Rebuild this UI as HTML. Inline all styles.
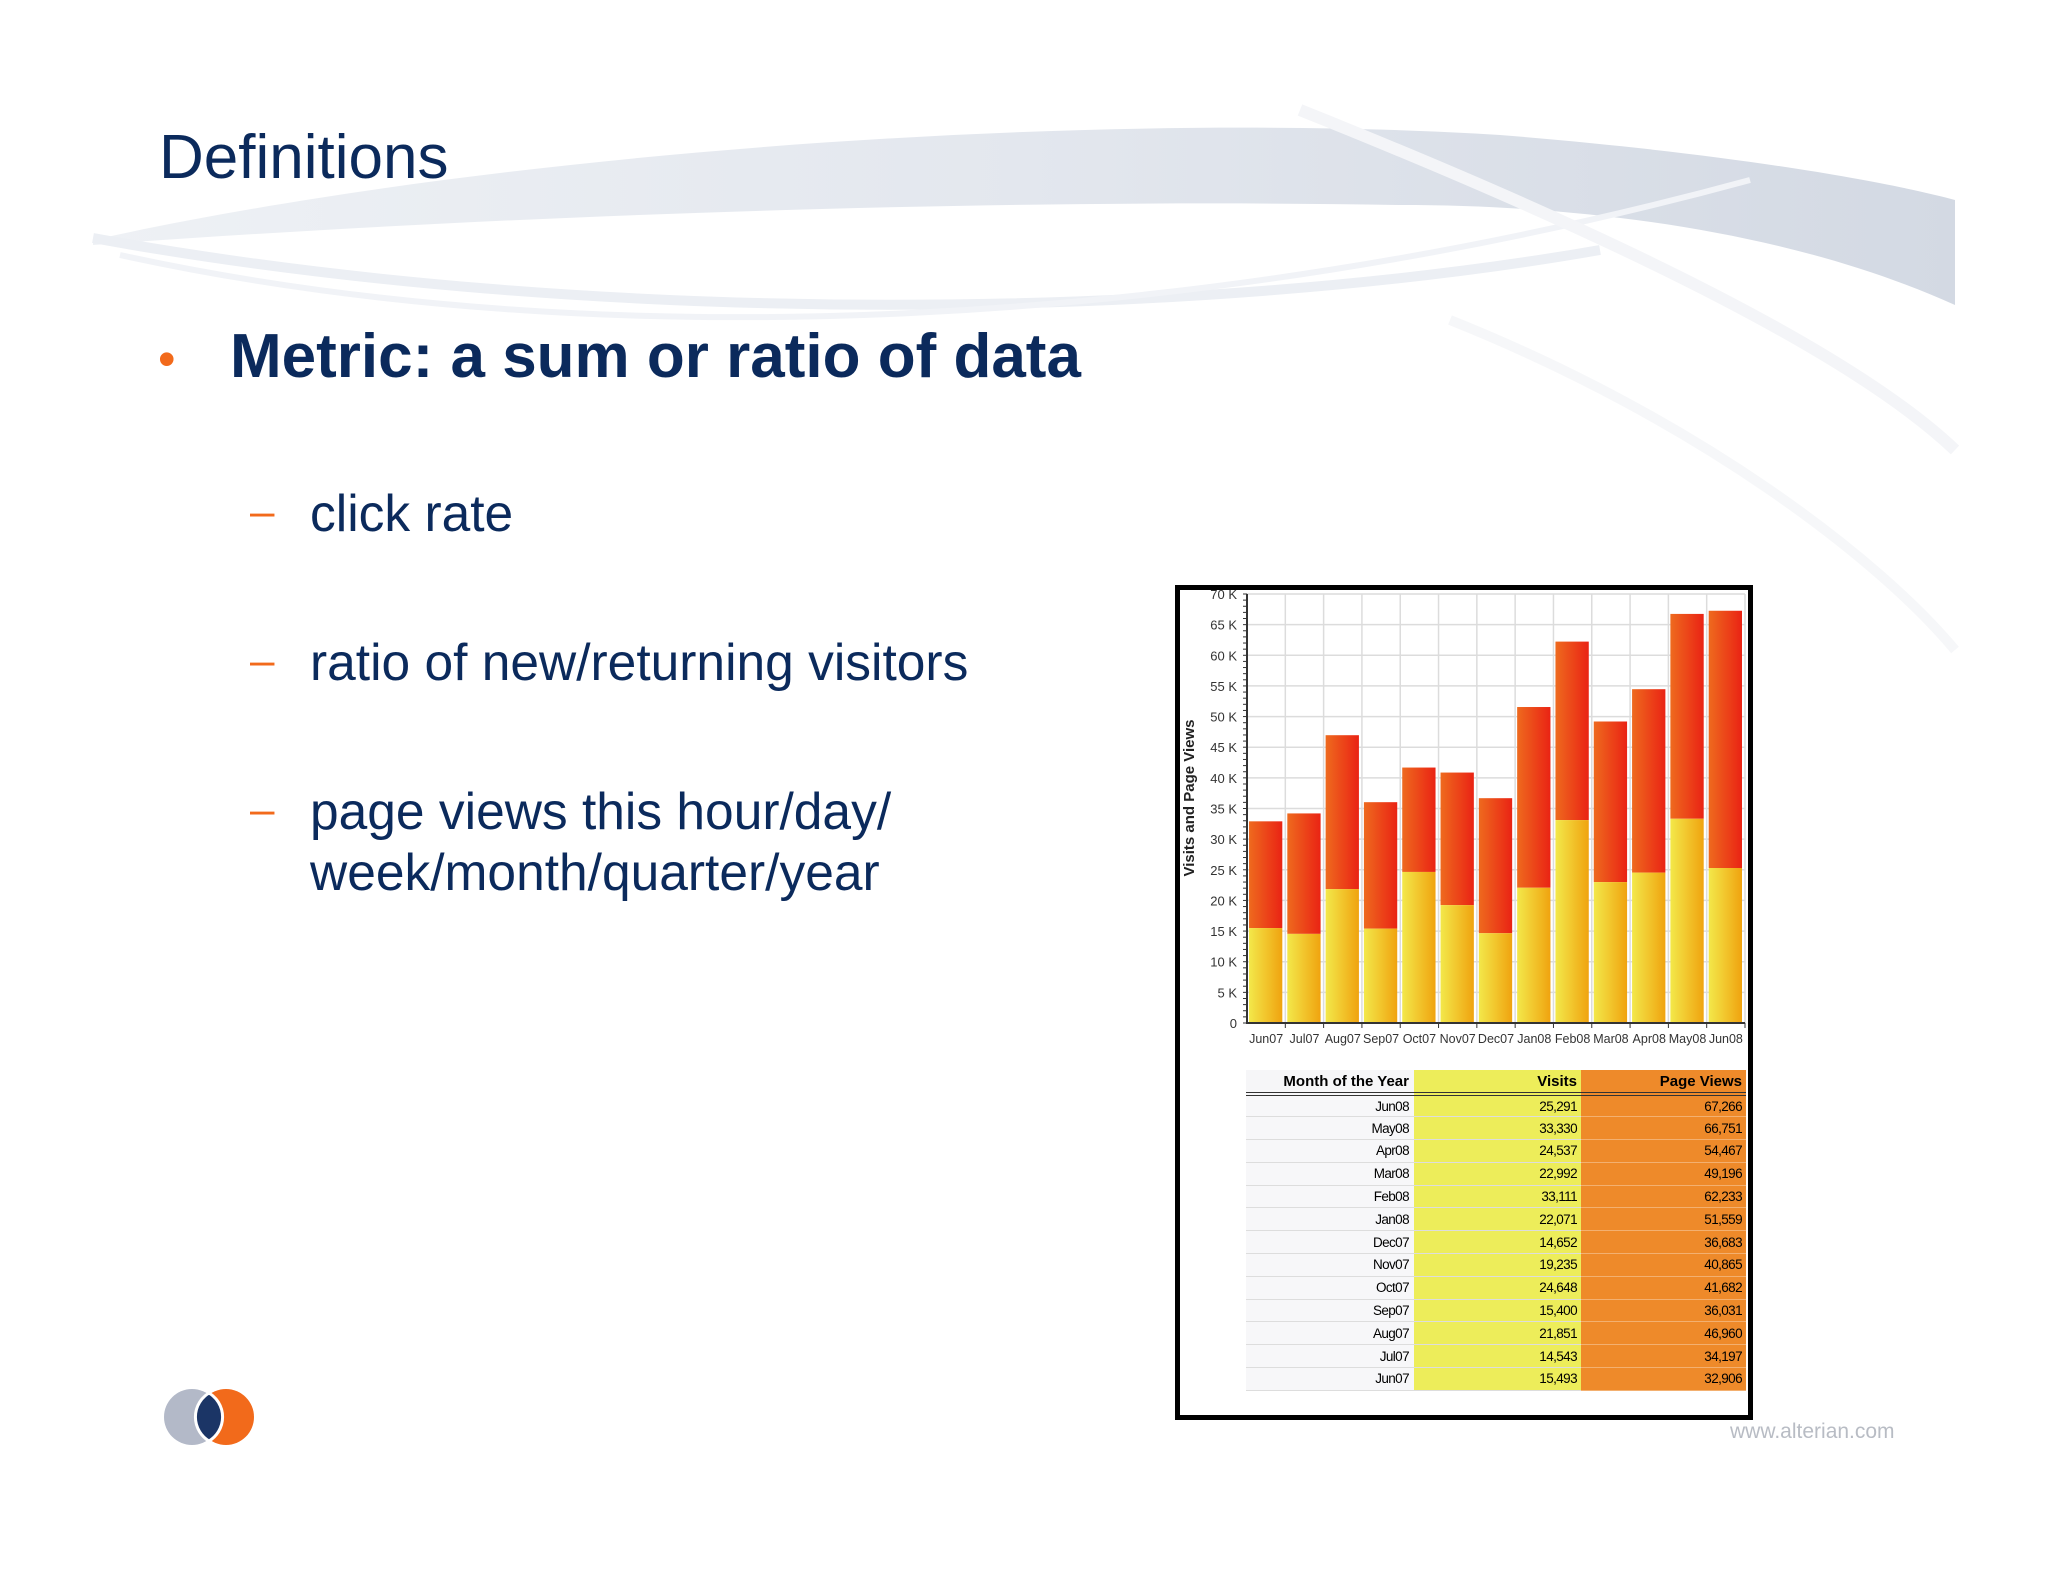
<!DOCTYPE html>
<html><head><meta charset="utf-8"><style>
body{margin:0;width:2048px;height:1582px;background:#fff;overflow:hidden;position:relative;font-family:"Liberation Sans",sans-serif}
.t{position:absolute;color:#0b2a5c;white-space:nowrap}
.dash{position:absolute;color:#f26a1b;font-size:44px}
table{border-collapse:collapse;font-family:"Liberation Sans",sans-serif}
</style></head><body>
<svg width="2048" height="1582" style="position:absolute;left:0;top:0">
<defs><linearGradient id="sw" x1="0" x2="1"><stop offset="0" stop-color="#eef1f5"/><stop offset="0.5" stop-color="#e3e7ee"/><stop offset="1" stop-color="#d3d9e3"/></linearGradient></defs>
<path d="M93 240 C500 150 1100 110 1500 135 C1750 155 1900 185 1955 200 L1955 305 C1800 235 1600 205 1400 205 C1000 198 500 215 93 245 Z" fill="url(#sw)"/>
<path d="M93 238 C600 330 1200 320 1600 250" stroke="#eceff4" stroke-width="10" fill="none"/>
<path d="M120 255 C600 360 1200 330 1750 180" stroke="#f1f3f7" stroke-width="6" fill="none"/>
<path d="M1300 110 C1600 230 1850 350 1955 450" stroke="#f4f5f8" stroke-width="12" fill="none"/>
<path d="M1450 320 C1700 420 1880 560 1955 650" stroke="#f6f7f9" stroke-width="10" fill="none"/>
</svg>
<div class="t" style="left:159px;top:122px;font-size:62px">Definitions</div>
<div class="t" style="left:158px;top:330px;font-size:50px;color:#f26a1b">•</div>
<div class="t" style="left:230px;top:321px;font-size:62px;font-weight:bold">Metric: a sum or ratio of data</div>
<div class="dash" style="left:250px;top:487px">–</div>
<div class="t" style="left:310px;top:483px;font-size:51.5px">click rate</div>
<div class="dash" style="left:250px;top:636px">–</div>
<div class="t" style="left:310px;top:632px;font-size:51.5px">ratio of new/returning visitors</div>
<div class="dash" style="left:250px;top:785px">–</div>
<div class="t" style="left:310px;top:781px;font-size:51.5px;line-height:61px">page views this hour/day/<br>week/month/quarter/year</div>
<svg width="100" height="80" style="position:absolute;left:160px;top:1378px">
<circle cx="32" cy="39" r="28" fill="#b3b9c8"/><circle cx="66" cy="39" r="28" fill="#f26a1b"/>
<path d="M49 15 A28 28 0 0 1 49 63 A28 28 0 0 1 49 15Z" fill="#1b3566" stroke="#fff" stroke-width="3"/>
</svg>
<div class="t" style="left:1730px;top:1420px;font-size:21px;color:#b8bcc4">www.alterian.com</div>
<div style="position:absolute;left:1175px;top:585px;width:568px;height:825px;border:5px solid #000;background:#fff"></div>
<svg id="chart" width="2048" height="1582" style="position:absolute;left:0;top:0;pointer-events:none">
<defs>
<linearGradient id="gy" x1="0" x2="1"><stop offset="0" stop-color="#f3e84a"/><stop offset="1" stop-color="#f0a30f"/></linearGradient>
<linearGradient id="gr" x1="0" x2="1"><stop offset="0" stop-color="#ee6a1e"/><stop offset="1" stop-color="#ea2314"/></linearGradient>
</defs>
</svg>
<table id="tbl" style="position:absolute;left:1246px;top:1070px;width:500px"></table>
<script>
const months=["Jun07","Jul07","Aug07","Sep07","Oct07","Nov07","Dec07","Jan08","Feb08","Mar08","Apr08","May08","Jun08"];
const visits=[15493,14543,21851,15400,24648,19235,14652,22071,33111,22992,24537,33330,25291];
const pageViews=[32906,34197,46960,36031,41682,40865,36683,51559,62233,49196,54467,66751,67266];
const yTicks=[0,5000,10000,15000,20000,25000,30000,35000,40000,45000,50000,55000,60000,65000,70000];
const yTickLabels=["0","5 K","10 K","15 K","20 K","25 K","30 K","35 K","40 K","45 K","50 K","55 K","60 K","65 K","70 K"];
const NS="http://www.w3.org/2000/svg";
const svg=document.getElementById('chart');
const X0=1247,X1=1745,Y0=1023,Y1=594,YMAX=70000;
const bw=(X1-X0)/months.length;
const y=v=>Y0-(v/YMAX)*(Y0-Y1);
const x=i=>X0+i*bw;
function mk(t,a){const e=document.createElementNS(NS,t);for(const k in a)e.setAttribute(k,a[k]);svg.appendChild(e);return e;}
yTicks.forEach((v,i)=>{
 const g=mk('line',{x1:X0,x2:X1,y1:y(v),y2:y(v),stroke:'#dcdcdc','stroke-width':1.5});
 
 
 const t=mk('text',{x:X0-10,y:y(v)+5,'font-size':13,'text-anchor':'end',fill:'#333','font-family':'Liberation Sans'});
 t.textContent=yTickLabels[i];
 
 
});
months.forEach((m,i)=>{
 const g=mk('line',{x1:x(i+1),x2:x(i+1),y1:Y1,y2:Y0,stroke:'#dcdcdc','stroke-width':1.5});
 
 
});
for(let v=0;v<=YMAX;v+=1000){mk('line',{x1:X0-4,x2:X0,y1:y(v),y2:y(v),stroke:'#333','stroke-width':1});}
months.forEach((m,i)=>{
 const r=mk('rect',{x:x(i)+2,y:y(pageViews[i]),width:bw-5,height:y(visits[i])-y(pageViews[i]),fill:'url(#gr)'});
 
 
 const b=mk('rect',{x:x(i)+2,y:y(visits[i]),width:bw-5,height:Y0-y(visits[i]),fill:'url(#gy)'});
 
 
 const t=mk('text',{x:x(i)+bw/2,y:Y0+20,'font-size':12.5,'text-anchor':'middle',fill:'#333','font-family':'Liberation Sans'});
 t.textContent=m;
 
 
 mk('line',{x1:x(i+1),x2:x(i+1),y1:Y0,y2:Y0+5,stroke:'#333'});
});
const ax=mk('path',{d:`M${X0} ${Y1} L${X0} ${Y0} L${X1} ${Y0}`,stroke:'#333','stroke-width':2,fill:'none'});


const yt=mk('text',{x:0,y:0,'font-size':15,'font-weight':'bold','text-anchor':'middle',fill:'#222','font-family':'Liberation Sans',transform:`translate(1194,798) rotate(-90)`});
yt.textContent='Visits and Page Views';


const tbl=document.getElementById('tbl');
let h='<tr style="height:24px;font-weight:bold;font-size:15px;border-bottom:4px double #333"><td style="text-align:right;padding-right:5px;background:#f6f6f8;width:162px">Month of the Year</td><td style="text-align:right;padding-right:4px;background:#eded5a;width:162px">Visits</td><td style="text-align:right;padding-right:4px;background:#ee8a2a">Page Views</td></tr>';
for(let i=months.length-1;i>=0;i--){
 h+=`<tr style="height:22.8px;font-size:13.5px;letter-spacing:-0.6px;border-bottom:1px solid #ddd"><td style="text-align:right;padding:0 5px 0 0;background:#f7f7f9">${months[i]}</td><td style="text-align:right;padding:0 4px 0 0;background:#eded5a">${visits[i].toLocaleString('en-US')}</td><td style="text-align:right;padding:0 4px 0 0;background:#ee8a2a;border-bottom:1px solid #f3b070">${pageViews[i].toLocaleString('en-US')}</td></tr>`;
}
tbl.innerHTML=h;
</script>
</body></html>
